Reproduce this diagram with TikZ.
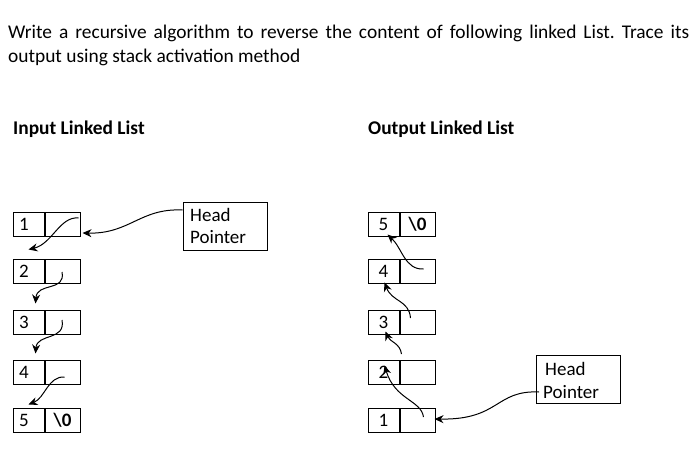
\documentclass[tikz,border=0pt]{standalone}
\usepackage{fontspec}
\setmainfont{Carlito}
\usetikzlibrary{arrows.meta,calc}
\frenchspacing
\begin{document}
\begin{tikzpicture}[x=1pt,y=-1pt,
  cell/.style={draw,line width=1pt,minimum height=24pt,inner ysep=0pt,font=\fontsize{19}{20}\selectfont},
  valcell/.style={cell,text width=19pt,inner xsep=6pt,align=left},
  rvalcell/.style={cell,minimum width=31pt,inner xsep=0pt},
  ptrcell/.style={cell,minimum width=35pt,inner xsep=0pt},
  headbox/.style={draw,line width=1pt,minimum width=84pt,minimum height=48pt,inner sep=0pt},
  headtext/.style={anchor=base west,inner sep=0pt,font=\fontsize{19}{22}\selectfont},
  body/.style={anchor=base west,inner sep=0pt,font=\fontsize{19.4}{24}\selectfont},
  link/.style={line width=1pt,-{Stealth[length=9pt,width=8pt]}},
  lbl/.style={font=\fontsize{19.4}{21}\selectfont\bfseries,anchor=base west,inner sep=0pt}]
\useasboundingbox (0,0) rectangle (698,468);
% question text
\node[body] (q1) at (8,39) {\makebox[681pt][s]{Write a recursive algorithm to reverse the content of following linked List. Trace its}};
\node[body] (q2) at (8,63) {output using stack activation method};
% headings
\node[lbl] (hin) at (13,134) {Input Linked List};
\node[lbl] (hout) at (368,134) {Output Linked List};
% input list
\node[valcell] (L1v) at (28.5,224) {1};
\node[ptrcell,anchor=west] (L1p) at (L1v.east) {};
\node[valcell] (L2v) at (28.5,271) {2};
\node[ptrcell,anchor=west] (L2p) at (L2v.east) {};
\node[valcell] (L3v) at (28.5,322) {3};
\node[ptrcell,anchor=west] (L3p) at (L3v.east) {};
\node[valcell] (L4v) at (28.5,372) {4};
\node[ptrcell,anchor=west] (L4p) at (L4v.east) {};
\node[valcell] (L5v) at (28.5,420) {5};
\node[ptrcell,anchor=west] (L5p) at (L5v.east) {\textbf{\textbackslash 0}};
% input head pointer
\node[headbox] (HL) at (225,226) {};
\node[headtext] (HLa) at (190,221) {Head};
\node[headtext] (HLb) at (190,243) {Pointer};
% output list
\node[rvalcell] (R5v) at (383.5,224) {5};
\node[ptrcell,anchor=west] (R5p) at (R5v.east) {\textbf{\textbackslash 0}};
\node[rvalcell] (R4v) at (383.5,271) {4};
\node[ptrcell,anchor=west] (R4p) at (R4v.east) {};
\node[rvalcell] (R3v) at (383.5,322) {3};
\node[ptrcell,anchor=west] (R3p) at (R3v.east) {};
\node[rvalcell] (R2v) at (383.5,372) {2};
\node[ptrcell,anchor=west] (R2p) at (R2v.east) {};
\node[rvalcell] (R1v) at (383.5,420) {1};
\node[ptrcell,anchor=west] (R1p) at (R1v.east) {};
% output head pointer
\node[headbox] (HR) at (578.5,379) {};
\node[headtext] (HRa) at (545,375) {Head};
\node[headtext] (HRb) at (543,398) {Pointer};
% input links
\draw[link] ($(HL.west)+(0,-16)$) .. controls (140,208) and (130,234) .. ($(L1p.east)+(2,9)$);
\draw[link] ($(L1p.east)+(-2,-6)$) .. controls (60,216) and (52,244) .. ($(L2v.north)+(0,-9)$);
\draw[link] ($(L2p.center)+(-0.5,1)$) .. controls (66,292) and (37,282) .. ($(L3v.north)+(7,-6)$);
\draw[link] ($(L3p.center)+(-0.5,-2)$) .. controls (66,341) and (37,333) .. ($(L4v.north)+(7,-6)$);
\draw[link] ($(L4p.center)+(2,5)$) .. controls (48,376) and (45,398) .. ($(L5v.north)+(0,-3)$);
% output links
\draw[link] ($(HR.west)+(3,13)$) .. controls (495,390) and (500,420) .. ($(R1p.east)+(-1,-1)$);
\draw[link] ($(R1p.center)+(6,-3)$) .. controls (421,400) and (395,400) .. ($(R2v.north)+(1,6)$);
\draw[link] ($(R2p.west)+(2,-18)$) .. controls (400,343) and (390,342) .. ($(R3v.north)+(2,22)$);
\draw[link] ($(R3p.center)+(-7,-4)$) .. controls (409,300) and (392,302) .. ($(R4v.north)+(1,24)$);
\draw[link] ($(R4p.center)+(6,-2)$) .. controls (405,270) and (402,248) .. ($(R5v.north)+(4,23)$);
\end{tikzpicture}
\end{document}
